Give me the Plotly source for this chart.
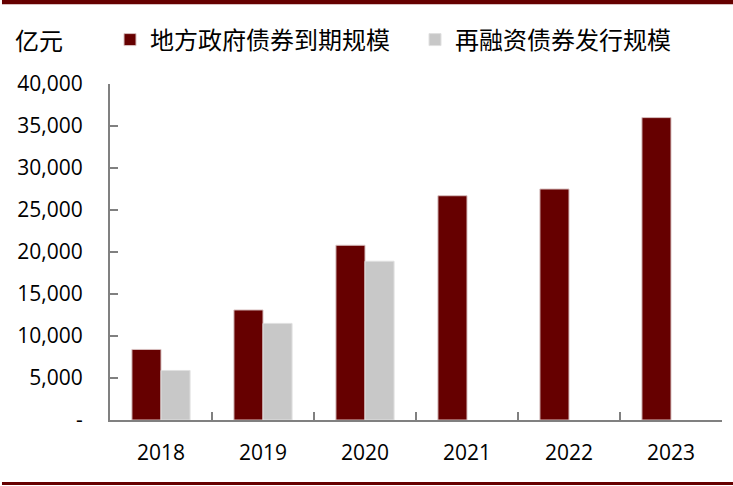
import plotly.graph_objects as go

years = ["2018", "2019", "2020", "2021", "2022", "2023"]
maturity = [8400, 13100, 20800, 26700, 27500, 36000]
refinance = [5900, 11500, 18900, None, None, None]
y_ticks = [0, 5000, 10000, 15000, 20000, 25000, 30000, 35000, 40000]
y_tick_text = ["-", "5,000", "10,000", "15,000", "20,000", "25,000", "30,000", "35,000", "40,000"]

DARK = "#660000"
GRAY = "#C8C8C8"
CJK = "Noto Sans CJK SC"
NUM = "Open Sans"

fig = go.Figure()
fig.add_trace(go.Bar(x=years, y=maturity, name="地方政府债券到期规模",
                     marker=dict(color=DARK, line=dict(color="#d8c0c0", width=1))))
fig.add_trace(go.Bar(x=years, y=refinance, name="再融资债券发行规模",
                     marker=dict(color=GRAY, line=dict(color="#e0e0e0", width=1))))

fig.update_layout(
    width=733, height=486,
    margin=dict(l=110, r=11, t=84, b=66, autoexpand=False),
    paper_bgcolor="white", plot_bgcolor="white",
    barmode="group", bargap=0.43, bargroupgap=0,
    font=dict(family=NUM, size=21, color="#000000"),
    showlegend=True,
    legend=dict(orientation="h", x=0.0, xanchor="left", y=1.131, yanchor="middle",
                font=dict(family=CJK, size=24, color="#000000"),
                itemwidth=30, entrywidth=260, tracegroupgap=0, bgcolor="rgba(0,0,0,0)"),
    xaxis=dict(type="category", showline=True, linecolor="#808080", linewidth=2,
               ticks="inside", tickson="boundaries", ticklen=8, tickcolor="#808080", tickwidth=2,
               showgrid=False, zeroline=False, ticklabelstandoff=13,
               tickfont=dict(family=NUM, size=21, color="#000000")),
    yaxis=dict(range=[0, 40000], tickvals=y_ticks, ticktext=y_tick_text,
               showline=True, linecolor="#808080", linewidth=2,
               ticks="inside", ticklen=8, tickcolor="#808080", tickwidth=2,
               showgrid=False, zeroline=False, ticklabelstandoff=21,
               tickfont=dict(family=NUM, size=21, color="#000000")),
    annotations=[dict(text="亿元", xref="paper", yref="paper", x=-0.158, y=1.131,
                      xanchor="left", yanchor="middle", showarrow=False,
                      font=dict(family=CJK, size=24, color="#000000"))],
    shapes=[
        dict(type="rect", xref="paper", yref="paper", x0=-0.1765, x1=1.02, y0=1.2375, y1=1.26,
             line=dict(width=0), fillcolor=DARK, layer="above"),
        dict(type="rect", xref="paper", yref="paper", x0=-0.1765, x1=1.02, y0=-0.1935, y1=-0.1845,
             line=dict(width=0), fillcolor=DARK, layer="above"),
    ],
)

fig.write_html("out.html", config={"displayModeBar": False},
               post_script="document.body.style.margin='0';document.body.style.padding='0';")
